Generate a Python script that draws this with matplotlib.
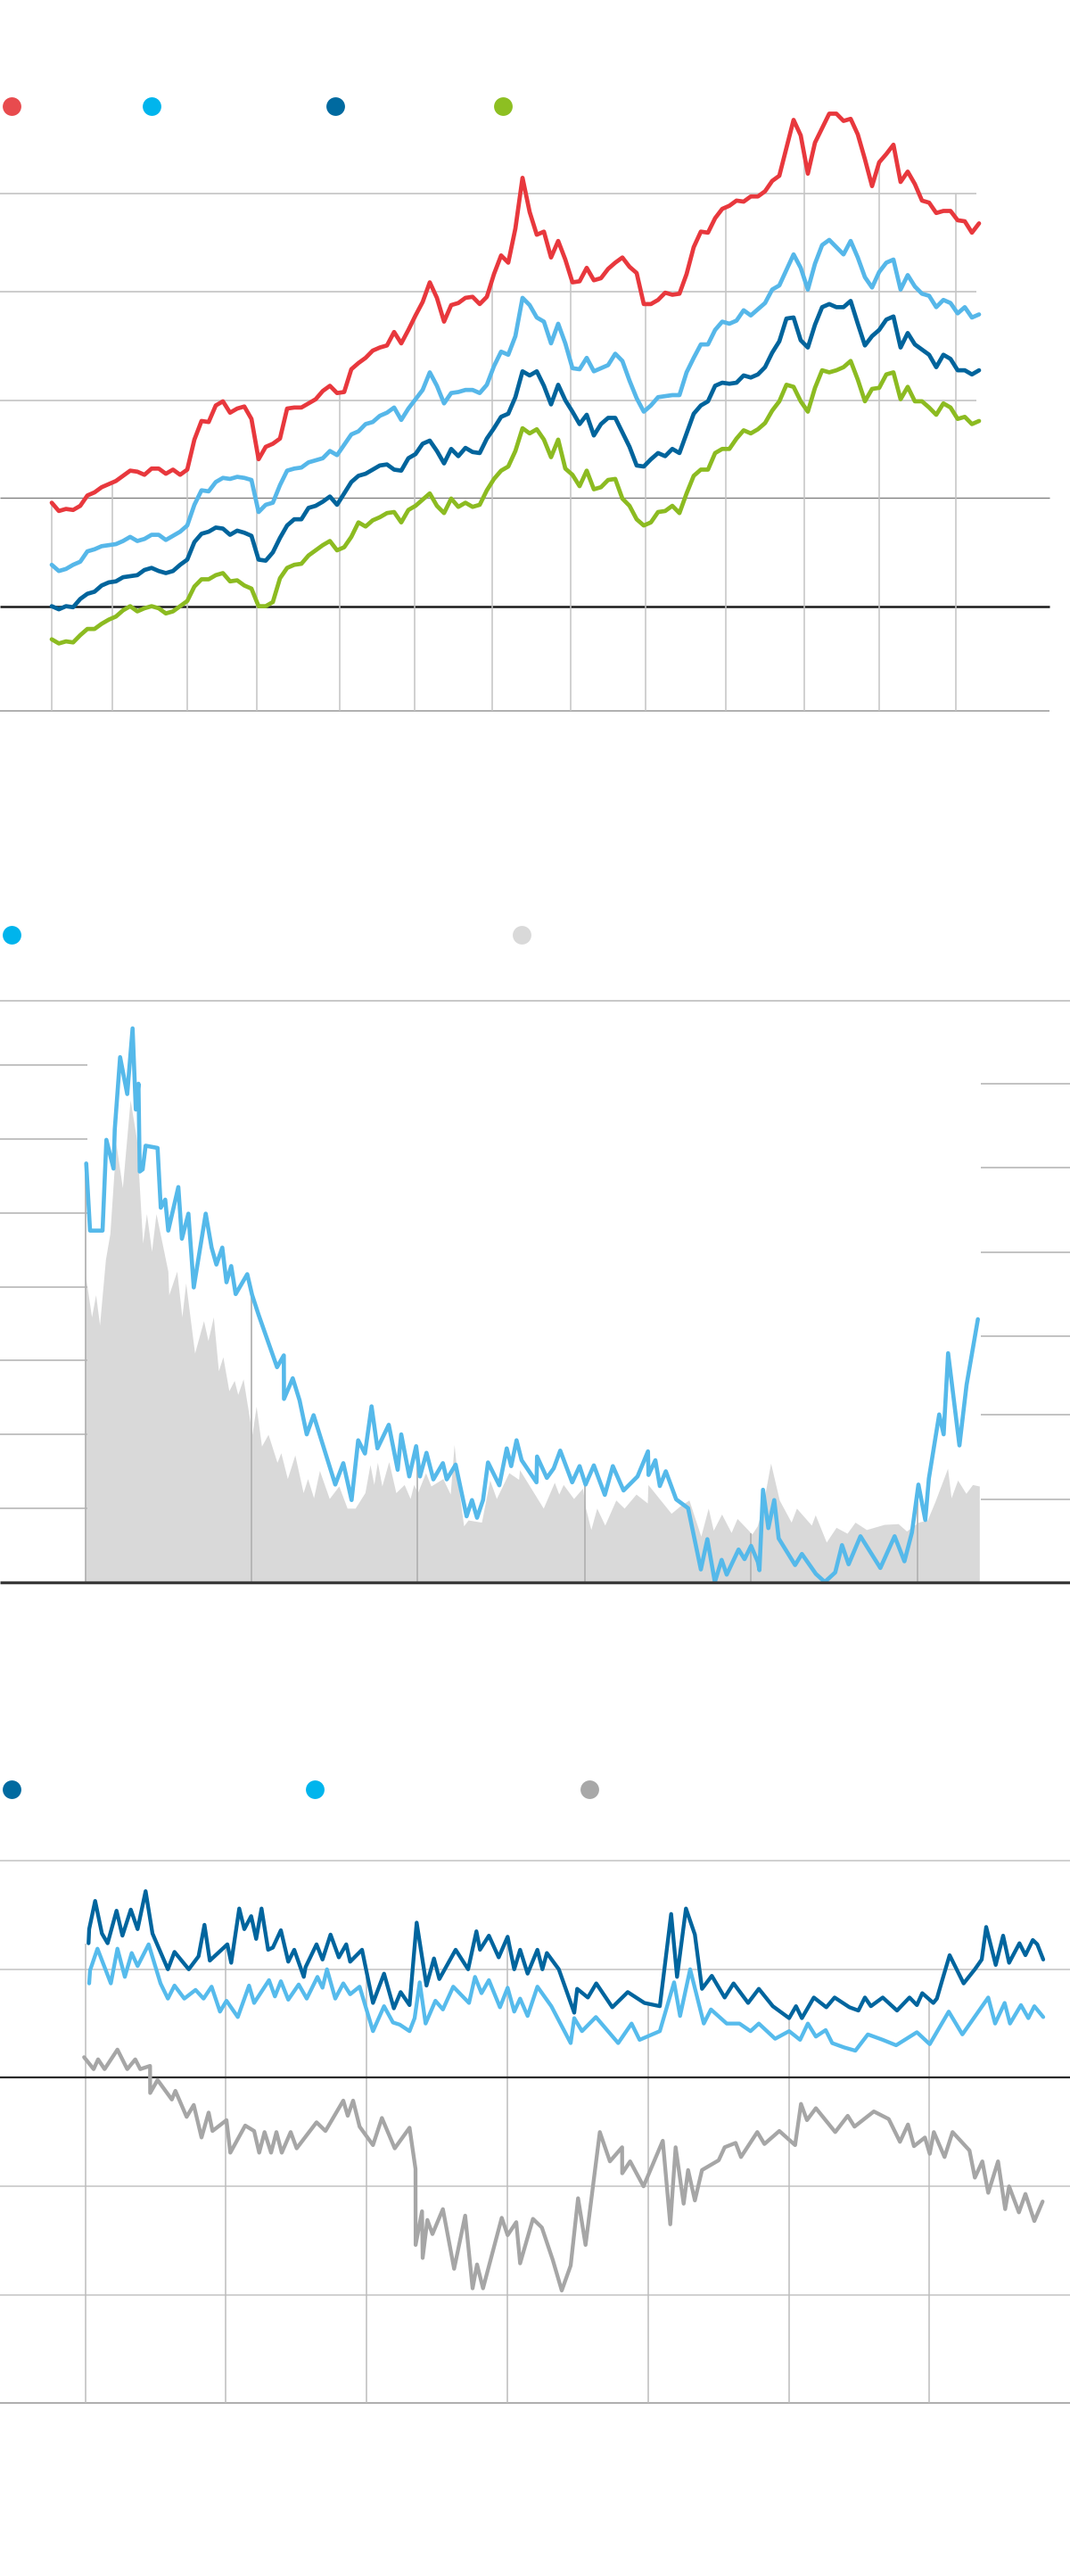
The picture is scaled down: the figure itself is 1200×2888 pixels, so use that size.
import numpy as np
from matplotlib import pyplot as plt
from matplotlib.lines import Line2D

W, H = 1200, 2888

# ---- chart 1: four index series, one value per month ----
red = [100, 92, 94, 93, 97, 107, 110, 115, 118, 121,
       126, 131, 130, 127, 133, 133, 128, 132, 127, 132,
       161, 179, 178, 194, 198, 187, 191, 193, 181, 142,
       154, 157, 162, 191, 192, 192, 196, 200, 208, 213,
       206, 207, 229, 235, 240, 247, 250, 252, 265, 254,
       267, 281, 294, 313, 298, 275, 291, 293, 298, 299,
       292, 299, 321, 339, 332, 365, 414, 381, 359, 362,
       337, 353, 335, 313, 314, 327, 315, 317, 326, 332,
       337, 328, 322, 292, 292, 296, 303, 301, 302, 321,
       347, 362, 361, 375, 384, 387, 392, 391, 396, 396,
       401, 411, 416, 443, 470, 455, 418, 448, 462, 476,
       476, 469, 471, 456, 432, 406, 429, 437, 446, 410,
       420, 408, 392, 390, 380, 382, 382, 373, 372, 361, 370]
light = [40, 34, 36, 40, 43, 53, 55, 58, 59, 60,
         63, 67, 63, 65, 69, 69, 64, 68, 72, 78,
         98, 112, 111, 120, 124, 123, 125, 124, 122, 91,
         98, 100, 117, 131, 133, 134, 139, 141, 143, 150,
         146, 156, 166, 169, 176, 178, 184, 187, 192, 180,
         191, 200, 209, 226, 213, 196, 206, 207, 209, 209,
         206, 214, 232, 246, 243, 261, 298, 291, 279, 275,
         254, 273, 254, 230, 229, 240, 227, 230, 233, 244,
         237, 218, 201, 188, 194, 202, 203, 204, 204, 226,
         240, 253, 253, 267, 275, 273, 276, 286, 281, 287,
         293, 306, 310, 325, 340, 327, 306, 331, 349, 354,
         347, 340, 353, 337, 318, 308, 323, 332, 335, 306,
         320, 309, 302, 300, 289, 296, 293, 283, 289, 279, 282]
dark = [0, -3, 0, -1, 7, 12, 14, 20, 23, 24,
        28, 29, 30, 35, 37, 34, 32, 34, 40, 45,
        62, 70, 72, 76, 75, 69, 73, 71, 68, 45,
        44, 52, 66, 78, 84, 84, 95, 97, 101, 106,
        98, 109, 120, 126, 128, 132, 136, 137, 132, 131,
        143, 147, 157, 160, 150, 138, 152, 145, 153, 149,
        148, 162, 172, 183, 186, 202, 227, 223, 227, 213,
        195, 214, 199, 188, 176, 185, 165, 176, 182, 182,
        168, 154, 136, 135, 142, 148, 145, 152, 148, 167,
        186, 194, 198, 213, 216, 215, 216, 223, 221, 224,
        231, 245, 256, 278, 279, 257, 250, 272, 289, 292,
        289, 289, 295, 273, 252, 261, 267, 277, 280, 250,
        264, 253, 248, 243, 231, 243, 239, 228, 228, 224, 228]
green = [-32, -36, -34, -35, -28, -22, -22, -17, -13, -10,
         -4, 0, -5, -2, 0, -2, -7, -5, 0, 5,
         19, 26, 26, 30, 32, 24, 25, 20, 17, 0,
         0, 4, 27, 37, 40, 41, 49, 54, 59, 63,
         54, 57, 67, 81, 77, 83, 86, 90, 91, 81,
         93, 97, 103, 109, 97, 90, 104, 96, 100, 96,
         98, 112, 123, 131, 135, 150, 172, 167, 171, 161,
         144, 161, 133, 127, 116, 131, 113, 115, 122, 123,
         104, 97, 84, 78, 81, 91, 92, 97, 90, 109,
         126, 132, 132, 148, 152, 152, 162, 170, 167, 171,
         177, 189, 198, 214, 212, 198, 188, 211, 228, 226,
         228, 231, 237, 219, 198, 210, 211, 224, 226, 200,
         212, 198, 198, 192, 185, 196, 192, 181, 183, 176, 179]
marks1 = [0, 8.5, 19, 28.8, 40.4, 50.9, 61.8, 72.7, 83.2, 94.5, 105.5, 116, 126.8]
grid1 = [399, 304, 199]

# ---- chart 2: line plus shaded series ----
t_line2 = [1.7, 6, 20, 24.3, 32.3, 33.7, 39.7, 47.7, 53.7, 57.3, 60.3, 61.7, 65, 68.3,
           81.7, 85.3, 90.3, 93.7, 105, 109, 116.3, 122.3, 135.7, 142.3, 147.7, 154.3,
           159, 164.3, 169.3, 182.3, 187.7, 195, 215.7, 223.3, 223.5, 233.3, 241, 249,
           256.7, 281, 290, 299.3, 306.7, 314.3, 321.7, 328.3, 341, 351, 355, 364, 371.7,
           376, 383.3, 391, 401.7, 406, 416, 428.3, 434.3, 440, 446.7, 452.3, 465, 473.3,
           478.3, 484.3, 490, 506.7, 507.3, 518.3, 526, 533.3, 546.7, 555, 561.7, 571,
           583.3, 592.3, 604.3, 620, 631.7, 632.3, 640, 645, 651.7, 663.3, 676.7, 691,
           698.3, 706.7, 714.3, 720, 733.3, 740, 747.3, 755, 756.7, 760.7, 766.7, 773.3,
           778.3, 796.7, 804.3, 820, 830, 841.7, 849.3, 856.7, 870, 892.3, 908.3, 919.3,
           927.7, 935, 942.7, 946.7, 958.3, 963.3, 968.3, 981, 989, 1001.7]
v_line2 = [56.7, 47.6, 47.6, 59.9, 56.0, 61.3, 71.1, 66.1, 75.0, 64.0, 67.5, 55.6, 55.9, 59.1,
           58.8, 50.7, 51.8, 47.6, 53.5, 46.5, 49.9, 39.9, 49.9, 45.3, 43.0, 45.3,
           40.6, 42.8, 39.0, 41.7, 38.9, 36.2, 29.1, 30.7, 24.8, 27.6, 24.6, 20.0,
           22.6, 13.2, 16.1, 11.1, 19.2, 17.4, 23.8, 18.1, 21.3, 15.2, 20.0, 14.3, 18.4,
           14.3, 17.5, 13.9, 16.1, 13.9, 15.9, 8.9, 11.1, 8.7, 11.1, 16.2, 13.1, 18.1,
           15.7, 19.2, 16.5, 13.5, 17.0, 14.1, 15.4, 17.8, 13.5, 15.7, 13.2, 15.8,
           11.8, 15.7, 12.4, 14.3, 17.7, 14.5, 16.5, 13.0, 15.0, 11.2, 10.0, 1.7,
           5.8, 0, 3.0, 1.0, 4.4, 3.1, 4.9, 2.7, 1.6, 12.5, 7.3, 11.1,
           5.9, 2.3, 3.8, 1.1, 0, 1.3, 5.0, 2.4, 6.2, 1.9, 6.2, 2.8,
           6.7, 13.2, 8.4, 14.0, 22.7, 20.0, 31.0, 18.5, 26.7, 35.6]
t_area2 = [0.7, 7.7, 12.3, 16.7, 23.3, 28.3, 35, 42.3, 51, 58.3, 65, 69.3, 75, 80, 93.3,
           94.3, 103.3, 109, 113.3, 123.3, 133.3, 138.3, 144.3, 150, 155, 161.7, 167.7,
           171.7, 177.7, 187.7, 192.3, 198.3, 205.7, 215.7, 220, 227.3, 235.7, 245, 250,
           256.7, 263.3, 274.3, 285, 294.3, 303.3, 314.3, 320, 324.3, 328.3, 333.3, 341,
           349, 358.3, 365, 369, 373.3, 382.3, 388.3, 401.7, 410, 414.3, 419, 425, 430,
           445, 454.3, 461.7, 475.7, 486.7, 487.7, 514.3, 526.7, 531.7, 536.7, 548.3,
           558.3, 561.7, 567.7, 574.3, 583.3, 595.7, 605, 618.3, 631, 631.7, 657.7,
           667.7, 677.7, 691, 699.3, 705, 714.3, 725, 731.7, 748.3, 754.3, 760, 769.3,
           779, 792.3, 798.3, 815, 819.3, 831.7, 842.7, 855, 864, 876.7, 896.7, 912.3,
           921.7, 935, 945, 953.3, 967.7, 971.7, 979, 988.3, 995.7, 1003.3]
v_area2 = [41.6, 35.9, 38.9, 34.8, 43.7, 47.2, 59.4, 53.4, 65.3, 59.9, 45.9, 49.9, 44.8, 49.9, 42.1,
           38.9, 42.1, 35.9, 40.5, 31.0, 35.4, 32.7, 35.9, 28.6, 30.5, 25.9, 27.3,
           25.4, 27.5, 20.0, 23.8, 18.4, 20.0, 16.2, 17.5, 14.0, 17.2, 12.1, 14.0,
           11.4, 15.1, 11.3, 13.0, 10.0, 10.0, 12.1, 15.9, 13.2, 16.2, 13.0, 16.3,
           12.1, 13.2, 11.3, 13.2, 12.1, 14.8, 13.0, 14.0, 11.9, 18.6, 13.0, 7.6, 8.4,
           8.1, 13.8, 11.3, 14.8, 13.9, 15.2, 10.0, 13.5, 11.9, 13.2, 11.3,
           12.7, 10.0, 7.1, 10.0, 7.7, 11.1, 10.0, 11.9, 10.7, 13.2, 9.3,
           10.3, 11.1, 6.2, 10.0, 7.0, 9.2, 6.7, 8.6, 6.5, 7.6, 10.0, 16.1,
           11.1, 8.1, 10.0, 7.7, 9.1, 5.4, 7.4, 6.6, 8.1, 7.1, 7.8, 7.9,
           6.9, 8.1, 8.4, 10.8, 15.4, 11.4, 13.8, 12.0, 13.2, 13.0]
marks2 = [0.7, 187.3, 373.3, 560.7, 747.3, 934.3]
left_grid2 = [10, 20, 30, 40, 50, 60, 70]
right_grid2 = [11.2, 22.7, 33.3, 44.7, 56.1, 67.5]

# ---- chart 3: three series around zero ----
t_dark3 = [3.6, 4.3, 11.0, 18.6, 25.0, 35.0, 41.6, 51.0, 58.6, 67.6, 75.3, 92.6, 100.0, 116.0,
           127.0, 133.6, 139.6, 159.3, 163.6, 172.6, 178.3, 186.0, 191.6, 197.6, 205.0,
           210.3, 219.3, 227.6, 234.3, 245.0, 247.0, 259.3, 266.0, 275.0, 284.3, 292.6,
           297.0, 310.3, 322.6, 335.0, 346.0, 353.6, 363.6, 371.6, 382.6, 391.0, 397.0,
           415.3, 429.3, 438.6, 442.6, 452.6, 463.6, 473.6, 481.0, 487.6, 496.0, 507.0,
           512.6, 517.6, 531.0, 548.3, 551.6, 563.6, 573.0, 591.0, 608.3, 627.0, 644.3,
           657.0, 663.6, 673.6, 683.6, 691.6, 702.6, 717.0, 727.0, 743.3, 755.3, 771.0,
           789.3, 797.0, 803.6, 817.0, 831.0, 840.3, 857.0, 867.0, 874.3, 881.0, 894.3,
           910.3, 924.3, 932.6, 938.6, 951.0, 955.0, 961.0, 969.3, 985.0, 997.6, 1005.3,
           1010.3, 1021.0, 1029.3, 1036.0, 1047.6, 1054.3, 1062.6, 1067.6, 1074.3]
v_dark3 = [12.4, 13.7, 16.3, 13.3, 12.4, 15.4, 13.1, 15.5, 13.7, 17.2, 13.3, 10.0, 11.6, 10.0,
           11.2, 14.1, 10.8, 12.3, 10.6, 15.6, 13.7, 14.9, 12.8, 15.6, 11.8,
           12.0, 13.6, 10.7, 11.8, 9.3, 10.2, 12.3, 10.9, 13.2, 11.1, 12.3,
           10.7, 11.8, 6.9, 9.6, 6.4, 7.9, 6.7, 14.3, 8.5, 11.0, 9.1,
           11.8, 10.0, 13.5, 11.8, 13.1, 11.1, 13.0, 10.0, 11.8, 9.6, 11.8,
           10.0, 11.5, 10.0, 6.0, 8.2, 7.4, 8.7, 6.5, 7.9, 6.9, 6.6,
           15.1, 9.3, 15.6, 13.2, 8.2, 9.4, 7.4, 8.7, 6.9, 8.2, 6.6,
           5.5, 6.6, 5.5, 7.4, 6.5, 7.4, 6.5, 6.2, 7.4, 6.6, 7.4,
           6.2, 7.4, 6.7, 7.8, 6.9, 7.3, 9.0, 11.3, 8.7, 10.0, 10.9,
           13.9, 10.4, 13.1, 10.6, 12.4, 11.3, 12.7, 12.3, 10.9]
t_light3 = [4.3, 5.3, 13.6, 28.6, 36.0, 44.3, 52.0, 58.6, 71.0, 84.3, 92.6, 100.0, 111.0, 123.6,
            132.6, 141.6, 151.0, 158.3, 171.0, 183.6, 189.3, 206.0, 212.6, 219.3, 227.6,
            239.3, 248.3, 260.3, 266.0, 271.0, 280.3, 289.3, 297.0, 307.6, 322.6, 335.0,
            345.0, 352.6, 363.6, 369.3, 375.0, 381.6, 392.6, 401.0, 412.6, 430.3, 437.0,
            444.3, 452.6, 465.0, 473.6, 481.0, 487.6, 496.0, 507.0, 522.6, 544.3, 548.3,
            557.0, 572.6, 597.6, 612.6, 621.6, 644.3, 660.3, 667.0, 678.3, 693.6, 701.6,
            719.3, 733.6, 746.0, 755.3, 773.6, 789.3, 801.6, 810.3, 819.3, 830.3, 837.6,
            851.0, 863.6, 877.6, 894.3, 909.3, 932.6, 947.0, 968.3, 983.6, 1012.6, 1020.3,
            1031.0, 1037.0, 1049.3, 1057.6, 1064.3, 1074.3]
v_light3 = [8.7, 9.9, 11.9, 8.7, 11.9, 9.3, 11.5, 10.3, 12.3, 8.7, 7.3, 8.5, 7.3, 8.1,
            7.3, 8.4, 6.1, 7.1, 5.6, 8.5, 6.9, 9.0, 7.5, 8.9, 7.2,
            8.6, 7.3, 9.3, 8.3, 10.0, 7.3, 8.7, 7.7, 8.4, 4.3, 6.6,
            5.1, 4.9, 4.3, 5.5, 8.8, 5.0, 7.1, 6.3, 8.4, 6.9, 9.3,
            7.8, 9.0, 6.5, 8.3, 6.1, 7.3, 5.7, 8.4, 6.6, 3.2, 5.5,
            4.3, 5.6, 3.2, 5.0, 3.5, 4.3, 8.8, 5.7, 10.0, 5.0, 6.3,
            5.0, 5.0, 4.3, 5.0, 3.6, 4.3, 3.5, 5.0, 3.8, 4.4, 3.2,
            2.8, 2.5, 4.0, 3.5, 3.0, 4.2, 3.1, 6.1, 4.0, 7.4, 5.0,
            6.9, 5.0, 6.7, 5.5, 6.6, 5.6]
t_gray3 = [-1.4, 9.3, 14.3, 21.6, 36.0, 47.0, 56.0, 61.6, 72.6, 72.7, 81.0, 97.0, 101.0, 113.6,
           121.6, 130.3, 138.3, 142.6, 158.3, 162.6, 179.3, 189.3, 195.0, 201.0, 208.3,
           214.3, 220.3, 230.3, 237.0, 259.3, 269.3, 289.3, 294.3, 300.3, 307.6, 322.6,
           332.6, 347.0, 363.6, 370.3, 370.4, 377.6, 378.3, 383.6, 389.3, 401.0, 413.6,
           426.0, 434.3, 439.3, 446.0, 467.0, 473.6, 483.3, 487.6, 502.0, 512.0, 524.3,
           534.3, 544.3, 552.6, 561.0, 577.0, 588.3, 602.0, 602.1, 611.0, 626.0, 647.6,
           656.0, 662.0, 671.0, 676.0, 683.6, 691.6, 710.3, 717.0, 729.3, 735.3, 753.6,
           761.6, 778.3, 796.0, 802.6, 809.3, 819.3, 841.0, 855.0, 862.6, 884.3, 901.0,
           913.6, 922.6, 929.3, 941.6, 947.0, 951.6, 963.6, 972.6, 991.6, 997.6, 1006.0,
           1012.6, 1023.6, 1031.6, 1036.0, 1047.0, 1054.3, 1064.3, 1073.6]
v_gray3 = [1.9, 0.8, 1.7, 0.8, 2.6, 0.8, 1.7, 0.8, 1.1, -1.4, -0.2, -2.0, -1.2, -3.6,
           -2.5, -5.5, -3.2, -4.9, -3.9, -6.9, -4.4, -4.9, -6.9, -5.0, -6.9,
           -5.0, -6.9, -5.0, -6.5, -4.1, -4.9, -2.1, -3.5, -2.1, -4.5, -6.2,
           -3.7, -6.5, -4.6, -8.4, -15.4, -12.3, -16.6, -13.1, -14.4, -12.1, -17.6,
           -12.7, -19.4, -17.2, -19.4, -12.9, -14.5, -13.3, -17.1, -13.0, -13.8, -16.8,
           -19.6, -17.3, -11.1, -15.4, -5.0, -7.7, -6.4, -8.8, -7.7, -10.0, -5.8,
           -13.5, -6.4, -11.6, -8.5, -11.3, -8.5, -7.6, -6.4, -6.0, -7.3, -5.0,
           -6.1, -4.9, -6.2, -2.4, -3.9, -2.8, -5.0, -3.5, -4.5, -3.1, -3.8,
           -5.9, -4.3, -6.3, -5.5, -7.0, -5.0, -7.3, -5.0, -6.7, -9.2, -7.7,
           -10.6, -7.7, -12.1, -10.0, -12.4, -10.7, -13.2, -11.4]
marks3 = [0, 157.6, 315.3, 473.6, 631, 789.3, 946.6]
grid3 = [20, 10, -10, -20]

fig = plt.figure(figsize=(W / 100, H / 100), dpi=100)


def panel(top, bottom, xlim, ylim):
    ax = fig.add_axes([0, 1 - bottom / H, 1, (bottom - top) / H])
    ax.set_xlim(*xlim)
    ax.set_ylim(*ylim)
    ax.set_axis_off()
    return ax


def dot(x, y, color):
    fig.add_artist(Line2D([x / W], [1 - y / H], marker='o', markersize=15,
                          markeredgewidth=0, color=color, linestyle='none',
                          transform=fig.transFigure))


# chart 1
ax1 = panel(80, 810, (-7.25, 142.75), (-112.4, 516.9))
x1 = np.arange(len(red))
ax1.hlines(grid1, -7.25, 129.6, color='#c4c4c4', lw=1.2)
ax1.hlines(105, -7.25, 139.9, color='#808080', lw=1.0)
ax1.hlines(-101, -7.25, 139.9, color='#9a9a9a', lw=1.1)
ax1.hlines(0, -7.25, 139.9, color='#1a1a1a', lw=1.8)
tops1 = np.interp(marks1, x1, red)
tops1[-1] = grid1[0]
ax1.vlines(marks1, -101, tops1, color='#c4c4c4', lw=1.1)
for vals, c in [(red, '#e8383d'), (light, '#56b7e9'), (dark, '#00649c'), (green, '#8cbb21')]:
    ax1.plot(x1, vals, color=c, lw=3.4, solid_joinstyle='round', solid_capstyle='round')
for x, c in [(13, '#e84b4e'), (170, '#00b5ed'), (376, '#006aa0'), (564, '#8dbf22')]:
    dot(x, 119, c)

# chart 2
ax2 = panel(1090, 1790, (-95, 1105), (-1.98, 82.6))
ax2.hlines(78.7, -95, 1105, color='#bdbdbd', lw=1.2)
ax2.hlines(left_grid2, -95, 3, color='#b8b8b8', lw=1.2)
ax2.hlines(right_grid2, 1005, 1105, color='#b8b8b8', lw=1.2)
ax2.fill_between(t_area2, 0, v_area2, color='#d9d9d9', lw=0)
tops2 = np.maximum(np.interp(marks2, t_line2, v_line2), np.interp(marks2, t_area2, v_area2))
ax2.vlines(marks2, 0, tops2, color='#b3b3b3', lw=1.3)
ax2.plot(t_line2, v_line2, color='#55b9ea', lw=3.3, solid_joinstyle='round', solid_capstyle='round')
ax2.hlines(0, -95, 1105, color='#3a3a3a', lw=2.4)
dot(13, 1048, '#00b4ec')
dot(585, 1048, '#d9d9d9')

# chart 3
ax3 = panel(2060, 2720, (-95.7, 1104.3), (-32.1, 22.15))
ax3.hlines(grid3, -95.7, 1104.3, color='#c8c8c8', lw=1.2)
ax3.hlines(-30, -95.7, 1104.3, color='#a0a0a0', lw=1.2)
ax3.vlines(marks3, -30, np.interp(marks3, t_dark3, v_dark3), color='#bdbdbd', lw=1.1)
ax3.hlines(0, -95.7, 1104.3, color='#2a2a2a', lw=1.6)
ax3.plot(t_gray3, v_gray3, color='#a6a6a6', lw=3.1, solid_joinstyle='round', solid_capstyle='round')
ax3.plot(t_light3, v_light3, color='#56bbec', lw=3.1, solid_joinstyle='round', solid_capstyle='round')
ax3.plot(t_dark3, v_dark3, color='#00659e', lw=3.1, solid_joinstyle='round', solid_capstyle='round')
for x, c in [(13, '#006aa0'), (353, '#00b5ed'), (661, '#a8a8a8')]:
    dot(x, 2006, c)

fig.savefig('out.png', dpi=100)
